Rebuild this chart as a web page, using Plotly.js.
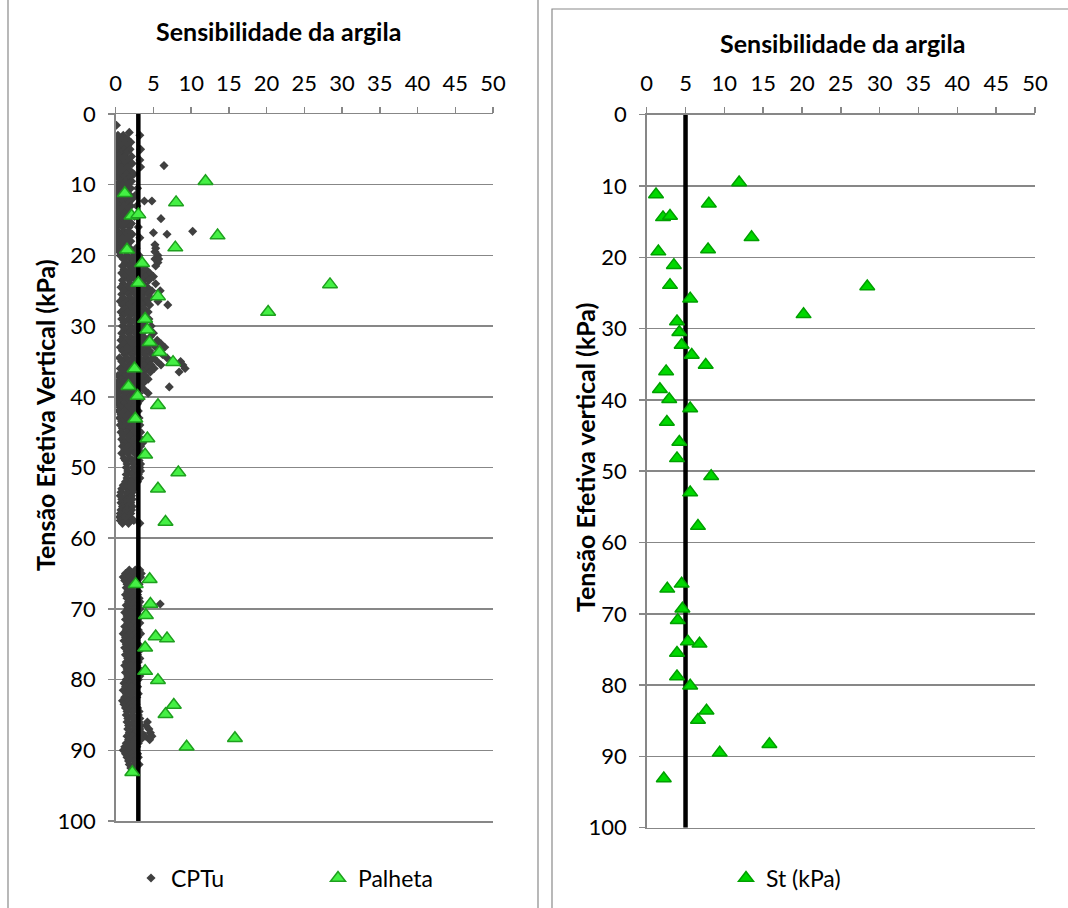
<!DOCTYPE html>
<html>
<head>
<meta charset="utf-8">
<script src="https://cdn.plot.ly/plotly-3.0.1.min.js"></script>
<style>
html,body{margin:0;padding:0;background:#fff;}
#chart{width:1068px;height:908px;}
</style>
</head>
<body>
<div id="chart"></div>
<script>
// ---------- data ----------
// CPTu: sensitivity readings grouped by effective vertical stress (kPa)
const cptDepth = [
  1.6, 2.6, 3.0, 3.5, 4.0, 4.5, 5.0, 5.5, 6.0, 6.5,
  7.0, 7.3, 7.5, 8.0, 8.5, 9.0, 9.5, 10.0, 10.5, 11.0,
  11.5, 12.0, 12.3, 12.5, 13.0, 13.5, 14.0, 14.5, 14.8, 15.0,
  15.5, 16.0, 16.6, 16.8, 17.0, 17.5, 18.0, 18.5, 19.0, 19.5,
  20.0, 20.5, 21.0, 21.5, 22.0, 22.5, 23.0, 23.5, 24.0, 24.5,
  25.0, 25.5, 26.0, 26.5, 27.0, 27.5, 28.0, 28.5, 29.0, 29.5,
  30.0, 30.5, 31.0, 31.5, 32.0, 32.5, 33.0, 33.5, 34.0, 34.5,
  35.0, 35.5, 36.0, 36.5, 37.0, 37.5, 38.0, 38.6, 39.0, 39.5,
  40.0, 40.5, 41.0, 41.5, 42.0, 42.5, 43.0, 43.5, 44.0, 44.5,
  45.0, 45.5, 46.0, 46.5, 47.0, 47.5, 48.0, 48.7, 49.0, 49.5,
  50.0, 50.5, 51.0, 51.5, 52.0, 52.5, 53.0, 53.5, 54.0, 54.5,
  55.0, 55.5, 56.0, 56.5, 57.0, 57.5, 57.9, 64.5, 65.0, 65.5,
  66.0, 66.5, 67.0, 67.5, 68.0, 68.5, 69.0, 69.3, 69.5, 70.0,
  70.5, 71.0, 71.5, 72.0, 72.5, 73.0, 73.5, 74.0, 74.5, 75.0,
  75.5, 76.0, 76.5, 77.0, 77.5, 78.0, 78.5, 79.0, 79.5, 80.0,
  80.5, 81.0, 81.5, 82.0, 82.5, 83.0, 83.5, 84.0, 84.5, 85.0,
  85.5, 86.0, 86.5, 87.0, 87.5, 88.0, 88.5, 89.0, 89.5, 90.0,
  90.5, 91.0, 91.5, 92.0, 92.5, 93.0
];
const cptSt = [
  [0.1],[1.8],[0.3,1.0,3.2],[0.2,0.9,1.5],[0.4,1.2,2.0],[0.1,0.8,1.6],[0.3,1.1,1.9,3.3],[0.2,0.7,1.4],[0.5,1.2,2.1],[0.1,0.9,1.7,3.2],
  [0.4,1.3,2.2],[6.4],[0.2,0.8,1.6,3.3],[0.5,1.1,1.9],[0.1,0.7,1.4,2.4],[0.3,1.0,1.8],[0.6,1.3,2.1],[0.2,0.9,1.6],[0.4,1.2,2.0,2.9],[0.1,0.8,1.5],
  [0.3,1.0,1.9,2.6],[0.5,1.4,2.2],[3.8,4.8],[0.2,0.9,1.7],[0.4,1.1,2.0,2.8],[0.1,0.7,1.5],[0.3,1.2,1.9],[0.5,1.0,1.7,2.5],[6.0],[0.2,0.8,1.6],
  [0.4,1.3,2.1],[0.1,0.9,1.8,3.0],[0.3,1.1,1.7,10.2],[5.0],[0.5,1.4,2.2,6.8],[0.2,0.9,1.6,3.2],[0.4,1.2,2.0],[0.1,0.8,1.5,5.2],[0.3,1.0,1.9,2.7,5.3],[0.5,1.4,2.3,5.2],
  [0.6,1.5,2.4,3.1,5.6],[1.0,1.9,2.8,5.2,5.7],[1.3,2.2,3.2,5.6],[0.9,1.8,2.6,3.6,5.3],[1.1,2.0,2.9,4.0],[0.8,1.7,2.5,3.4,4.5],[1.2,2.1,3.0,3.9,5.0],[0.9,1.8,2.7,3.6,4.4],[1.0,1.9,2.8,3.7,5.3],[0.7,1.6,2.5,3.3,4.2],
  [1.1,2.0,2.9,3.8,4.8,5.9],[0.8,1.7,2.6,3.5,4.3],[1.0,1.9,2.8,3.6,4.6],[0.6,1.5,2.4,3.3,4.1,5.6],[0.9,1.8,2.7,3.6,4.5,6.9],[1.2,2.1,3.0,3.8],[0.7,1.6,2.5,3.4,4.3],[1.0,1.9,2.8,3.6],[0.8,1.7,2.6,3.5,4.4],[1.1,2.0,2.9,3.7],
  [0.9,1.8,2.7,3.6,4.7],[1.2,2.1,3.0,3.9],[0.8,1.7,2.6,3.5,5.0],[1.0,1.9,2.8,3.7,4.6],[0.7,1.6,2.5,3.4,4.3,5.5],[1.1,2.0,2.9,3.8,4.9,6.0],[0.6,1.5,2.4,3.3,4.2,5.3,6.5],[0.9,1.8,2.7,3.6,4.5,5.8],[1.2,2.1,3.0,3.9,4.8,6.2],[0.5,1.4,2.3,3.2,4.1,5.0,6.8],
  [0.8,1.7,2.6,3.5,4.4,5.5,8.6],[1.1,2.0,2.9,3.8,4.7,6.0,8.9],[0.6,1.5,2.4,3.3,4.2,5.1,9.2],[0.9,1.8,2.7,3.6,4.6,8.4],[0.3,1.2,2.1,3.0,3.9],[0.7,1.6,2.5,3.4,4.3],[0.2,1.0,1.9,2.8,3.7],[0.5,1.4,2.3,3.2,7.1],[0.1,0.9,1.8,2.7,3.8],[0.4,1.3,2.2,3.1,4.3],
  [0.2,1.0,1.9,2.8],[0.5,1.4,2.3,3.2],[0.3,1.1,2.0,2.9],[0.6,1.5,2.4],[0.4,1.2,2.1,3.0],[0.7,1.6,2.5],[0.5,1.3,2.2,3.1],[0.8,1.7,2.6],[0.6,1.4,2.3,3.2],[0.9,1.8,2.7],
  [0.7,1.5,2.4,3.3],[1.0,1.9,2.8],[0.8,1.6,2.5,3.4],[1.1,2.0,2.9,3.6],[0.9,1.7,2.6,3.3],[1.2,2.1,3.0],[0.8,1.6,2.5,3.4],[1.1,1.9,2.8],[1.3,2.2,3.1],[1.5,2.4,3.3],
  [1.4,2.3,3.2],[1.6,2.5,3.3],[1.4,2.2,3.0],[1.5,2.4,3.2],[1.3,2.1,2.9],[1.0,1.8,2.6],[0.8,1.6,2.4],[0.7,1.5,2.2],[0.6,1.4,2.1],[0.8,1.5,2.2],
  [0.7,1.4,2.0],[0.9,1.6,2.2],[0.7,1.4,2.1],[0.6,1.3,2.0],[0.5,1.2,1.9],[0.6,1.3,2.0,2.4],[0.9,1.7,3.2],[1.8,2.6,3.2],[1.3,2.1,2.9,3.4],[1.0,1.8,2.6,3.3],
  [1.2,2.0,2.8],[1.5,2.3,3.1],[1.4,2.2],[1.6,2.4,3.0],[1.3,2.1,2.9],[1.5,2.3,3.1],[1.7,2.5,3.2],[5.9],[1.4,2.2,3.0],[1.6,2.4,3.2],
  [1.2,2.0,2.8],[1.5,2.3,3.1],[1.3,2.1,2.9],[1.6,2.4,3.2],[1.2,2.0,2.8],[1.4,2.2,3.0],[1.0,1.8,2.6,3.3],[1.3,2.1,2.9],[1.1,1.9,2.7],[1.4,2.2,3.0],
  [1.2,2.0,2.8],[1.5,2.3,3.1],[1.3,2.1,2.9],[1.6,2.4,3.2],[1.4,2.2,3.0],[1.2,2.0,2.8],[1.5,2.3,3.1],[1.3,2.1,2.9],[1.6,2.4,3.2],[1.4,2.2,3.0],
  [1.1,1.9,2.7],[1.3,2.1,2.9],[1.0,1.8,2.6],[1.4,2.2,3.0],[1.2,2.0,2.8],[0.9,1.7,2.5],[1.1,1.9,2.7],[1.3,2.1,2.9],[1.5,2.3,3.1],[1.4,2.2,3.0],
  [1.6,2.4,3.2],[1.5,2.3,3.1,4.2],[1.7,2.5,3.3,4.0],[1.6,2.4,3.2,4.4],[1.8,2.6,3.4,4.6],[1.5,2.3,3.1,3.9,4.8],[1.7,2.5,3.3,4.5],[1.4,2.2,3.0],[1.2,2.0,2.8],[1.0,1.8,2.6],
  [1.3,2.1,2.9],[1.5,2.3,3.0],[1.7,2.5],[1.8,2.6,3.1],[2.0,2.7],[2.2]
];

// Vane test (Palheta) = St (kPa)
const vaneDepth = [9.5, 11.2, 12.5, 14.4, 14.2, 17.2, 19.2, 18.9, 21.1, 23.9,
  24.1, 25.8, 28.0, 29.0, 30.5, 32.3, 33.7, 35.1, 36.0, 38.5,
  39.9, 41.2, 43.1, 45.9, 48.2, 50.7, 53.0, 57.7, 65.8, 66.5,
  69.3, 70.9, 73.9, 74.2, 75.5, 78.8, 80.1, 83.6, 84.9, 88.3,
  89.5, 93.1];
const vaneSt = [11.9, 1.2, 8.0, 2.1, 3.0, 13.5, 1.5, 7.9, 3.5, 3.0,
  28.4, 5.6, 20.2, 3.9, 4.2, 4.5, 5.8, 7.6, 2.5, 1.7,
  2.9, 5.6, 2.6, 4.2, 3.9, 8.3, 5.6, 6.6, 4.5, 2.65,
  4.6, 4.0, 5.3, 6.8, 3.9, 3.9, 5.6, 7.7, 6.6, 15.8,
  9.4, 2.2];

// reference lines
const limitDepth = [0, 100];
const leftLimit = [3, 3];
const rightLimit = [5, 5];

// text
const chartTitle = 'Sensibilidade da argila';
const yTitleLeft = 'Tensão Efetiva Vertical (kPa)';
const yTitleRight = 'Tensão Efetiva vertical (kPa)';
const xTicks = [0,5,10,15,20,25,30,35,40,45,50];
const yTicks = [0,10,20,30,40,50,60,70,80,90,100];

// ---------- build ----------
const cx = [], cy = [];
cptDepth.forEach((d, i) => { (cptSt[i] || []).forEach(v => { cx.push(v); cy.push(d); }); });

const W = 1068, H = 908;
const px = v => v / W, py = v => 1 - v / H;
const FONT = 'Lato, "Open Sans", sans-serif';
const GRID = '#878787';
const TICKSIZE = 22, TITLESIZE = 25, LEGSIZE = 23;

const traces = [
  {x: cx, y: cy, xaxis: 'x', yaxis: 'y', type: 'scatter', mode: 'markers', name: 'CPTu',
   marker: {symbol: 'diamond', size: 7, color: '#404040'}, legend: 'legend'},
  {x: leftLimit, y: limitDepth, xaxis: 'x', yaxis: 'y', type: 'scatter', mode: 'lines',
   line: {color: '#000', width: 4.5}, showlegend: false, hoverinfo: 'skip'},
  {x: vaneSt, y: vaneDepth, xaxis: 'x', yaxis: 'y', type: 'scatter', mode: 'markers', name: 'Palheta',
   marker: {symbol: 'triangle-up', size: 13, color: '#44f044', line: {color: '#1ea01e', width: 1.5}}, legend: 'legend'},
  {x: rightLimit, y: limitDepth, xaxis: 'x2', yaxis: 'y2', type: 'scatter', mode: 'lines',
   line: {color: '#000', width: 4.5}, showlegend: false, hoverinfo: 'skip'},
  {x: vaneSt, y: vaneDepth, xaxis: 'x2', yaxis: 'y2', type: 'scatter', mode: 'markers', name: 'St (kPa)',
   marker: {symbol: 'triangle-up', size: 13, color: '#00d800', line: {color: '#00a000', width: 1.5}}, legend: 'legend2'}
];

function xa(domain, anchor) {
  return {domain: domain, anchor: anchor, side: 'top', range: [0, 50], tickvals: xTicks,
    ticks: 'outside', ticklen: 6, tickcolor: GRID, tickwidth: 1.5,
    showline: true, linecolor: GRID, linewidth: 1.5, mirror: true,
    showgrid: false, zeroline: false,
    tickfont: {family: FONT, size: TICKSIZE, color: '#000'}, ticklabelstandoff: 7, fixedrange: true};
}
function ya(domain, anchor) {
  return {domain: domain, anchor: anchor, range: [100, 0], tickvals: yTicks,
    ticks: 'outside', ticklen: 6, tickcolor: GRID, tickwidth: 1.5,
    showline: true, linecolor: GRID, linewidth: 1.5,
    showgrid: true, gridcolor: GRID, gridwidth: 1.5, zeroline: false,
    tickfont: {family: FONT, size: TICKSIZE, color: '#000'}, ticklabelstandoff: 8, fixedrange: true};
}

const layout = {
  width: W, height: H,
  margin: {l: 0, r: 0, t: 0, b: 0},
  paper_bgcolor: '#fff', plot_bgcolor: '#fff',
  font: {family: FONT, size: LEGSIZE, color: '#000'},
  xaxis: xa([px(115.7), px(493)], 'y'),
  yaxis: ya([1 - 821 / H, 1 - 114 / H], 'x'),
  xaxis2: xa([px(646.7), px(1035)], 'y2'),
  yaxis2: ya([1 - 827.7 / H, 1 - 114.7 / H], 'x2'),
  legend: {orientation: 'h', x: px(131), y: py(878), xanchor: 'left', yanchor: 'middle',
    entrywidth: 142, font: {family: FONT, size: LEGSIZE, color: '#000'}, bgcolor: 'rgba(0,0,0,0)'},
  legend2: {orientation: 'h', x: px(726), y: py(878), xanchor: 'left', yanchor: 'middle',
    font: {family: FONT, size: LEGSIZE, color: '#000'}, bgcolor: 'rgba(0,0,0,0)'},
  annotations: [
    {text: '<b>' + chartTitle + '</b>', xref: 'paper', yref: 'paper', x: px(278), y: py(31),
     xanchor: 'center', yanchor: 'middle', showarrow: false, font: {family: FONT, size: TITLESIZE, color: '#000'}},
    {text: '<b>' + chartTitle + '</b>', xref: 'paper', yref: 'paper', x: px(842), y: py(43),
     xanchor: 'center', yanchor: 'middle', showarrow: false, font: {family: FONT, size: TITLESIZE, color: '#000'}},
    {text: '<b>' + yTitleLeft + '</b>', xref: 'paper', yref: 'paper', x: px(45), y: py(415),
     xanchor: 'center', yanchor: 'middle', textangle: -90, showarrow: false, font: {family: FONT, size: TITLESIZE, color: '#000'}},
    {text: '<b>' + yTitleRight + '</b>', xref: 'paper', yref: 'paper', x: px(585), y: py(458),
     xanchor: 'center', yanchor: 'middle', textangle: -90, showarrow: false, font: {family: FONT, size: TITLESIZE, color: '#000'}}
  ],
  shapes: [
    {type: 'rect', xref: 'paper', yref: 'paper', x0: px(8), x1: px(538), y0: -0.05, y1: 1.05,
     line: {color: '#8a8a8a', width: 1.2}, fillcolor: 'rgba(0,0,0,0)', layer: 'below'},
    {type: 'rect', xref: 'paper', yref: 'paper', x0: px(552), x1: 1.05, y0: -0.05, y1: py(9),
     line: {color: '#8a8a8a', width: 1.2}, fillcolor: 'rgba(0,0,0,0)', layer: 'below'}
  ],
  showlegend: true
};

Plotly.newPlot('chart', traces, layout, {staticPlot: true, displayModeBar: false});
</script>
</body>
</html>
